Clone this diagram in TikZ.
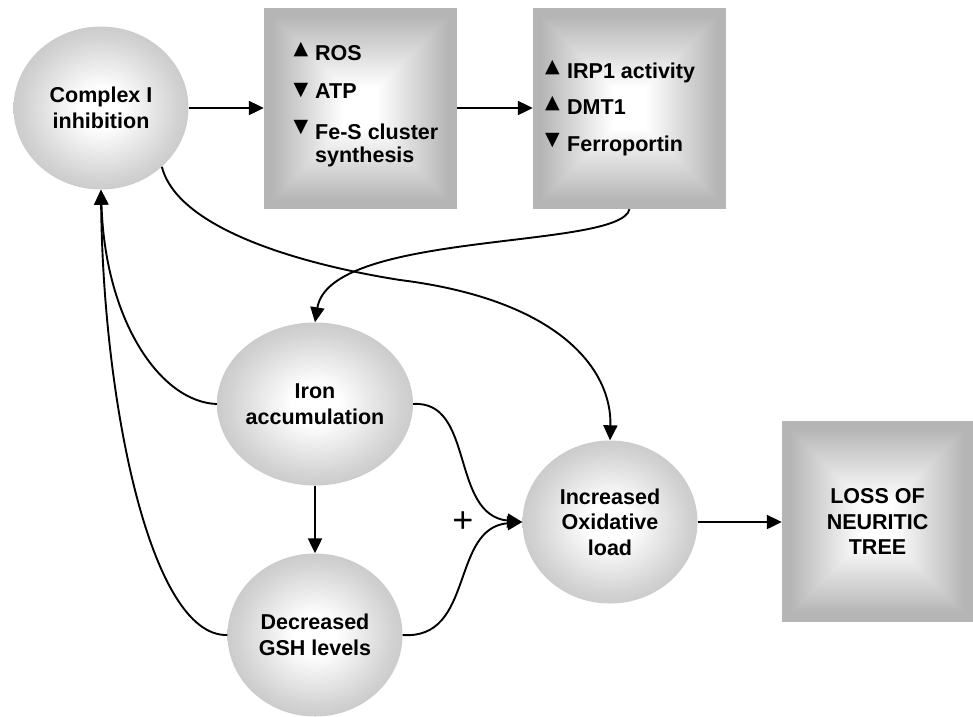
\documentclass[tikz,border=0pt]{standalone}
\usepackage{fontspec}
\setmainfont{Liberation Sans}
\newfontfamily\symfont{DejaVu Sans}
\usetikzlibrary{arrows.meta,shapes.geometric}
\definecolor{ballgray}{gray}{0.65}
\definecolor{boxgray}{gray}{0.71}
\pgfdeclareradialshading{ballshade}{\pgfpoint{0bp}{0bp}}{color(0bp)=(white); color(6bp)=(white); color(22bp)=(ballgray!50!white); color(38bp)=(ballgray!90!white); color(50bp)=(ballgray)}
\tikzset{
  txt/.style={font=\bfseries\fontsize{21.5}{25.5}\selectfont, text=black, align=center},
  ball/.style={ellipse, minimum width=175pt, minimum height=163pt, inner sep=0pt, shading=ballshade, txt},
  boxn/.style={rectangle, minimum height=201pt, inner sep=0pt, txt,
    path picture={
      \foreach \d in {0,1,...,94}{
        \pgfmathsetmacro\c{min(100,max(0,(\d-8)*1.4))}
        \fill[white!\c!boxgray] ([xshift=\d pt,yshift=\d pt]path picture bounding box.south west)
          rectangle ([xshift=-\d pt,yshift=-\d pt]path picture bounding box.north east);
      }}},
  item/.style={font=\bfseries\fontsize{21.5}{25}\selectfont, anchor=base west, inner sep=0pt},
  tri/.style={font=\symfont\fontsize{19}{19}\selectfont, inner sep=0pt},
  arr/.style={line width=2.2pt, -{Triangle[length=15pt,width=14pt]}},
  carr/.style={line width=1.9pt, -{Triangle[length=15pt,width=14pt]}},
}
\begin{document}
\begin{tikzpicture}[x=1pt,y=-1pt]
\useasboundingbox (0,0) rectangle (973,716);
% nodes
\node[ball] (c1) at (101,108) {Complex I\\inhibition};
\node[ball] (iron) at (315,404) {Iron\\accumulation};
\node[ball] (gsh) at (315,635) {Decreased\\GSH levels};
\node[ball] (ox) at (610,522) {Increased\\Oxidative\\load};
\node[boxn, minimum width=193pt] (b1) at (360.5,108.5) {};
\node[boxn, minimum width=193pt] (b2) at (629.5,108.5) {};
\node[boxn, minimum width=191pt] (loss) at (877.5,521.5) {LOSS OF\\NEURITIC\\TREE};
% box 1 items
\node[tri] (t1) at (301,50) {▲};
\node[item] (ros) at (315,60) {ROS};
\node[tri] (t2) at (301,91) {▼};
\node[item] (atp) at (315,98) {ATP};
\node[tri] (t3) at (301,128) {▼};
\node[item] (fes) at (315,139) {Fe-S cluster};
\node[item] (syn) at (315,162) {synthesis};
% box 2 items
\node[tri] (t4) at (552.5,68) {▲};
\node[item] (irp) at (567,78) {IRP1 activity};
\node[tri] (t5) at (552.5,104) {▲};
\node[item] (dmt) at (567,114) {DMT1};
\node[tri] (t6) at (552.5,141) {▼};
\node[item] (fpn) at (567,151) {Ferroportin};
% plus sign
\node[font=\fontsize{36}{36}\selectfont] (plus) at (463,522) {+};
% connectors
\draw[arr] (c1.east) -- (c1.east -| b1.west);
\draw[arr] (b1.east |- c1.east) -- (c1.east -| b2.west);
\draw[carr] (b2.south) .. controls (620,250) and (330,230) .. (iron.north);
\draw[carr] (c1.-44) .. controls (178,230) and (305,265) .. (400,280) .. controls (560,300) and (612,370) .. (ox.north);
\draw[carr] (iron.west) .. controls (160,402) and (105,320) .. (c1.south);
\draw[carr] (gsh.west) .. controls (150,637) and (103,400) .. (c1.south);
\draw[arr] (iron.south) -- (gsh.north);
\draw[carr] (iron.east) .. controls (475,400) and (450,515) .. (ox.west);
\draw[carr] (gsh.east) .. controls (475,640) and (450,528) .. (ox.west);
\draw[arr] (ox.east) -- (ox.east -| loss.west);
\end{tikzpicture}
\end{document}
